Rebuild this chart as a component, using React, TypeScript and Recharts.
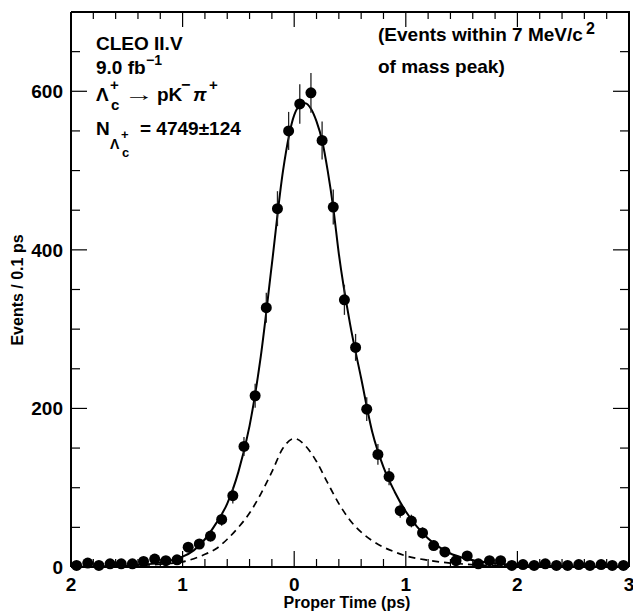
import React from 'react'
import { ComposedChart, Line, Scatter, ErrorBar, XAxis, YAxis } from 'recharts'

// proper time bin centres (ps), 0.1 ps bins
const binCenters = [
  -1.95, -1.85, -1.75, -1.65, -1.55, -1.45, -1.35, -1.25, -1.15, -1.05,
  -0.95, -0.85, -0.75, -0.65, -0.55, -0.45, -0.35, -0.25, -0.15, -0.05,
  0.05, 0.15, 0.25, 0.35, 0.45, 0.55, 0.65, 0.75, 0.85, 0.95,
  1.05, 1.15, 1.25, 1.35, 1.45, 1.55, 1.65, 1.75, 1.85, 1.95,
  2.05, 2.15, 2.25, 2.35, 2.45, 2.55, 2.65, 2.75, 2.85, 2.95,
]
const events = [
  2, 5, 2, 4, 4, 4, 7, 10, 8, 9,
  25, 29, 39, 60, 90, 152, 216, 327, 452, 550,
  584, 598, 538, 454, 337, 277, 199, 142, 114, 71,
  58, 43, 27, 19, 8, 14, 4, 8, 8, 2,
  3, 2, 4, 2, 2, 3, 2, 3, 2, 2,
]
const errors = [
  2, 3, 2, 2, 2, 2, 3, 3, 3, 3,
  5, 6, 7, 8, 10, 12, 15, 19, 22, 24,
  25, 25, 24, 22, 19, 17, 15, 13, 11, 9,
  8, 7, 6, 5, 3, 4, 2, 3, 3, 2,
  2, 2, 2, 2, 2, 2, 2, 2, 2, 2,
]

// total fit (solid)
const fitT = [
  -2.0, -1.8, -1.6, -1.4, -1.2, -1.1, -1.0, -0.9, -0.8, -0.7, -0.6, -0.5, -0.4, -0.3, -0.2, -0.1,
  0.0, 0.05, 0.1, 0.15, 0.2, 0.25, 0.3, 0.35, 0.4, 0.5, 0.6, 0.7, 0.8, 0.9,
  1.0, 1.1, 1.2, 1.3, 1.4, 1.5, 1.6, 1.8, 2.0, 2.4, 3.0,
]
const fitTotal = [
  0.3, 0.6, 1.2, 2.5, 5.5, 8.5, 13, 21, 35, 55, 80, 120, 178, 265, 382, 500,
  570, 582, 585, 578, 562, 538, 500, 453, 395, 307, 238, 170, 126, 95,
  70, 51, 36, 25, 17, 12, 8.5, 4.5, 2.5, 1, 0.3,
]

// background component (dashed)
const bkgT = [
  -2.0, -1.5, -1.2, -1.0, -0.8, -0.7, -0.6, -0.5, -0.4, -0.3, -0.2, -0.1,
  0.0, 0.1, 0.2, 0.3, 0.4, 0.5, 0.6, 0.7, 0.8, 0.9, 1.0, 1.2, 1.4, 1.6, 2.0, 3.0,
]
const bkgValues = [
  0, 1.5, 3.5, 6.5, 16, 23, 35, 50, 68, 92, 120, 150,
  162, 153, 133, 106, 80, 59, 44, 33, 25, 19, 14, 8.5, 5, 3, 1, 0,
]

const xTicks = [
  -2, -1.8, -1.6, -1.4, -1.2, -1, -0.8, -0.6, -0.4, -0.2, 0,
  0.2, 0.4, 0.6, 0.8, 1, 1.2, 1.4, 1.6, 1.8, 2, 2.2, 2.4, 2.6, 2.8, 3,
]
const xMajor = [-2, -1, 0, 1, 2, 3]
const xMajorLabels = ['2', '1', '0', '1', '2', '3']
const yTicks = [0, 50, 100, 150, 200, 250, 300, 350, 400, 450, 500, 550, 600, 650, 700]
const yMajor = [0, 200, 400, 600]

const X_MIN = -2, X_MAX = 3, Y_MIN = 0, Y_MAX = 700

// plot box (chart margin + axis sizes)
const W = 633, H = 612
const M = { top: 12, right: 4, left: 0 }
const Y_AXIS_W = 71, X_AXIS_H = 45
const PL = M.left + Y_AXIS_W, PR = W - M.right, PT = M.top, PB = H - X_AXIS_H

const points = binCenters.map((t, i) => ({ t, n: events[i], err: errors[i] }))
const fitData = fitT.map((t, i) => ({ t, fit: fitTotal[i] }))
const bkgData = bkgT.map((t, i) => ({ t, bkg: bkgValues[i] }))

const FONT = "'Liberation Sans', Arial, Helvetica, sans-serif"

function BottomTick({ x, y, payload }: any) {
  const i = xMajor.indexOf(payload.value)
  if (i < 0) return <g />
  return (
    <text x={x} y={y + 24} textAnchor="middle" fontFamily={FONT} fontWeight="bold" fontSize={19} fill="#000">
      {xMajorLabels[i]}
    </text>
  )
}

function LeftTick({ x, y, payload }: any) {
  if (yMajor.indexOf(payload.value) < 0) return <g />
  return (
    <text x={x - 8} y={y + 7} textAnchor="end" fontFamily={FONT} fontWeight="bold" fontSize={19} fill="#000">
      {payload.value}
    </text>
  )
}

function Dot(props: any) {
  return <circle cx={props.cx} cy={props.cy} r={5.5} fill="#000" />
}

const txt = { fontFamily: FONT, fontWeight: 'bold' as const, fill: '#000' }

// frame with inward ticks on all four sides (axis furniture only)
function Frame() {
  const px = (t: number) => PL + ((t - X_MIN) / (X_MAX - X_MIN)) * (PR - PL)
  const py = (v: number) => PB - ((v - Y_MIN) / (Y_MAX - Y_MIN)) * (PB - PT)
  return (
    <g stroke="#000" strokeWidth={1.2}>
      {xTicks.map((t) => {
        const len = xMajor.indexOf(t) >= 0 ? 16 : 8
        return (
          <g key={'x' + t}>
            <line x1={px(t)} x2={px(t)} y1={PB} y2={PB - len} />
            <line x1={px(t)} x2={px(t)} y1={PT} y2={PT + len - 1} />
          </g>
        )
      })}
      {yTicks.map((v) => {
        const len = yMajor.indexOf(v) >= 0 ? 16 : 9
        return (
          <g key={'y' + v}>
            <line x1={PL} x2={PL + len} y1={py(v)} y2={py(v)} />
            <line x1={PR} x2={PR - len} y1={py(v)} y2={py(v)} />
          </g>
        )
      })}
      <polyline points={`${PL},${PT} ${PR},${PT} ${PR},${PB}`} fill="none" strokeWidth={2} />
    </g>
  )
}

function Labels() {
  return (
    <svg width={W} height={H} style={{ position: 'absolute', left: 0, top: 0, pointerEvents: 'none' }}>
      <Frame />

      {/* left annotation block */}
      <text x={96} y={50} fontSize={19} {...txt}>CLEO II.V</text>
      <text x={96} y={74} fontSize={19} {...txt}>9.0 fb</text>
      <text x={146} y={65} fontSize={14} {...txt}>−1</text>

      <text x={96} y={101} fontSize={19} {...txt}>Λ</text>
      <text x={110} y={90} fontSize={15} {...txt}>+</text>
      <text x={111} y={110} fontSize={15} {...txt}>c</text>
      <text x={124} y={101} fontSize={19} textLength={30} lengthAdjust="spacingAndGlyphs" {...txt}>→</text>
      <text x={157} y={101} fontSize={19} {...txt}>pK</text>
      <text x={181} y={90} fontSize={16} {...txt}>−</text>
      <text x={193} y={101} fontSize={19} fontStyle="italic" {...txt}>π</text>
      <text x={209} y={90} fontSize={15} {...txt}>+</text>

      <text x={96} y={135} fontSize={19} {...txt}>N</text>
      <text x={110} y={149} fontSize={14} {...txt}>Λ</text>
      <text x={121} y={139} fontSize={13} {...txt}>+</text>
      <text x={122} y={157} fontSize={13} {...txt}>c</text>
      <text x={140} y={135} fontSize={19} {...txt}>= 4749±124</text>

      {/* right annotation block */}
      <text x={378} y={41} fontSize={19} {...txt}>(Events within 7 MeV/c</text>
      <text x={586} y={34} fontSize={16} {...txt}>2</text>
      <text x={378} y={73} fontSize={19} {...txt}>of mass peak)</text>

      {/* axis titles */}
      <text x={347} y={608} fontSize={16} textAnchor="middle" {...txt}>Proper Time (ps)</text>
      <text x={23} y={290} fontSize={16} textAnchor="middle" transform="rotate(-90 23 290)" {...txt}>Events / 0.1 ps</text>
    </svg>
  )
}

const ids = { xAxisId: 'bottom', yAxisId: 'left' }

export default function App() {
  return (
    <div style={{ position: 'absolute', left: 0, top: 0, width: W, height: H, background: '#fff' }}>
      <Labels />
      <div style={{ position: 'absolute', left: 0, top: 0 }}>
        <ComposedChart width={W} height={H} margin={{ top: M.top, right: M.right, bottom: 0, left: M.left }}>
          <XAxis
            xAxisId="bottom"
            dataKey="t"
            type="number"
            domain={[X_MIN, X_MAX]}
            ticks={xTicks}
            interval={0}
            height={X_AXIS_H}
            tickSize={0}
            tickMargin={0}
            tick={<BottomTick />}
            axisLine={{ stroke: '#000', strokeWidth: 2 }}
            tickLine={false}
          />
          <YAxis
            yAxisId="left"
            type="number"
            domain={[Y_MIN, Y_MAX]}
            ticks={yTicks}
            interval={0}
            width={Y_AXIS_W}
            tickSize={0}
            tickMargin={0}
            tick={<LeftTick />}
            axisLine={{ stroke: '#000', strokeWidth: 2 }}
            tickLine={false}
          />
          <Line
            {...ids}
            data={bkgData}
            dataKey="bkg"
            type="monotone"
            stroke="#000"
            strokeWidth={1.7}
            strokeDasharray="7 5"
            dot={false}
            activeDot={false}
            isAnimationActive={false}
          />
          <Line
            {...ids}
            data={fitData}
            dataKey="fit"
            type="monotone"
            stroke="#000"
            strokeWidth={2}
            dot={false}
            activeDot={false}
            isAnimationActive={false}
          />
          <Scatter {...ids} data={points} dataKey="n" shape={<Dot />} isAnimationActive={false}>
            <ErrorBar dataKey="err" direction="y" width={0} stroke="#222" strokeWidth={1.3} isAnimationActive={false} />
          </Scatter>
        </ComposedChart>
      </div>
    </div>
  )
}
